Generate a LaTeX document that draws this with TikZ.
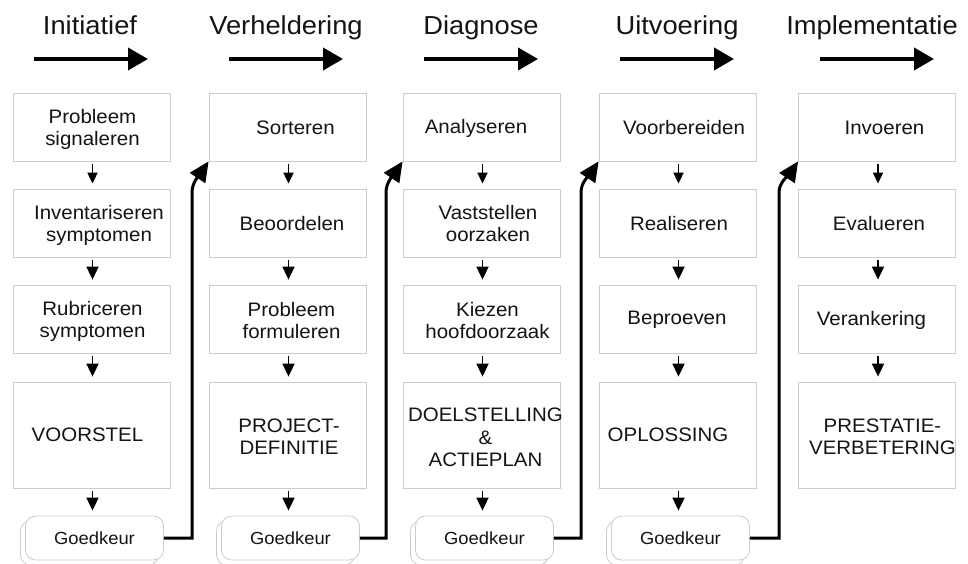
\documentclass[tikz,border=0pt]{standalone}
\usepackage{fontspec}
\setmainfont[FakeStretch=1.05]{Liberation Sans}
\usetikzlibrary{arrows.meta,shadows}
\begin{document}
\begin{tikzpicture}[x=1pt,y=-1pt,
  stepbox/.style={draw=gray!40, line width=0.8pt, minimum width=157pt, minimum height=68pt, inner sep=0pt},
  bigbox/.style={stepbox, minimum height=106pt},
  txt/.style={inner sep=0pt, align=center, text=black!92, font=\fontsize{19.5}{22}\selectfont},
  gbox/.style={draw=gray!40, line width=0.8pt, fill=white, rounded corners=10pt, minimum width=138pt, minimum height=44pt, inner sep=0pt, text=black!92, font=\fontsize{17.5}{20}\selectfont,
    copy shadow={shadow xshift=-5pt, shadow yshift=-5pt, draw=gray!40, fill=white}},
  head/.style={inner sep=0pt, anchor=base, text=black!92, font=\fontsize{26}{30}\selectfont},
  headarr/.style={draw, line width=3.8pt, -{Triangle[length=20pt,width=22pt]}},
  sarr/.style={draw, line width=1.8pt, -{Triangle[length=13pt,width=12pt]}, shorten <=3pt, shorten >=5pt},
  sarrone/.style={sarr, -{Triangle[length=11pt,width=10pt]}},
  conn/.style={draw, line width=3pt, -{Triangle[length=20pt,width=18pt]}}
]
\useasboundingbox[fill=white] (0,0) rectangle (968,564);

% headings
\node[head] (h1) at (90,35) {Initiatief};
\node[head] (h2) at (286,35) {Verheldering};
\node[head] (h3) at (481,35) {Diagnose};
\node[head] (h4) at (677,35) {Uitvoering};
\node[head] (h5) at (872,35) {Implementatie};
\foreach \i/\l in {1/13,2/208,3/403,4/599,5/799}{
  \coordinate (ha\i) at (\l+21,59);
  \coordinate (hb\i) at (\l+135,59);
  \draw[headarr] (ha\i) -- (hb\i);
}

% boxes
\foreach \i/\c in {1/91.5,2/287.5,3/481.5,4/677.5,5/877}{
  \node[stepbox] (b\i1) at (\c,127) {};
  \node[stepbox] (b\i2) at (\c,223) {};
  \node[stepbox] (b\i3) at (\c,319) {};
  \node[bigbox]  (b\i4) at (\c,435) {};
}
\foreach \i/\c in {1/94.5,2/290.5,3/484.5,4/680.5}{
  \node[gbox] (g\i) at (\c,538) {Goedkeur};
}

% texts column 1
\node[txt] (t11) at (92.5,129) {Probleem\\signaleren};
\node[txt] (t12) at (99,225) {Inventariseren\\symptomen};
\node[txt] (t13) at (92.5,321) {Rubriceren\\symptomen};
\node[txt] (t14) at (87.5,435) {VOORSTEL};
% column 2
\node[txt] (t21) at (295.5,127.5) {Sorteren};
\node[txt] (t22) at (292,224) {Beoordelen};
\node[txt] (t23) at (291.5,321) {Probleem\\formuleren};
\node[txt] (t24) at (289,437) {PROJECT-\\DEFINITIE};
% column 3
\node[txt] (t31) at (476,128) {Analyseren};
\node[txt] (t32) at (488,224) {Vaststellen\\oorzaken};
\node[txt] (t33) at (487.5,321) {Kiezen\\hoofdoorzaak};
\node[txt, font=\fontsize{19.5}{22.5}\selectfont] (t34) at (485.5,437.5) {DOELSTELLING\\\&\\ACTIEPLAN};
% column 4
\node[txt] (t41) at (684,128) {Voorbereiden};
\node[txt] (t42) at (679,224) {Realiseren};
\node[txt] (t43) at (677,320) {Beproeven};
\node[txt] (t44) at (668,435) {OPLOSSING};
% column 5
\node[txt] (t51) at (884.5,128) {Invoeren};
\node[txt] (t52) at (879,224) {Evalueren};
\node[txt] (t53) at (871.5,320) {Verankering};
\node[txt] (t54) at (882.5,436.5) {PRESTATIE-\\VERBETERING};

% small arrows
\foreach \i in {1,2,3,4,5}{
  \draw[sarrone] ([xshift=1pt]b\i1.south) -- ([xshift=1pt]b\i2.north);
  \draw[sarr] ([xshift=1pt]b\i2.south) -- ([xshift=1pt]b\i3.north);
  \draw[sarr] ([xshift=1pt]b\i3.south) -- ([xshift=1pt]b\i4.north);
}
\foreach \i in {1,2,3,4}{
  \draw[sarr] ([xshift=1pt]b\i4.south) -- ([xshift=-2pt]g\i.north);
}

% connectors
\coordinate (k2) at (192,192);
\coordinate (k3) at (386,192);
\coordinate (k4) at (581,192);
\coordinate (k5) at (779,192);
\draw[conn] (g1.east) -| (k2) .. controls +(0,-10) and +(-8,12) .. (b21.south west);
\draw[conn] (g2.east) -| (k3) .. controls +(0,-10) and +(-8,12) .. (b31.south west);
\draw[conn] (g3.east) -| (k4) .. controls +(0,-10) and +(-8,12) .. (b41.south west);
\draw[conn] (g4.east) -| (k5) .. controls +(0,-10) and +(-8,12) .. (b51.south west);
\end{tikzpicture}
\end{document}
